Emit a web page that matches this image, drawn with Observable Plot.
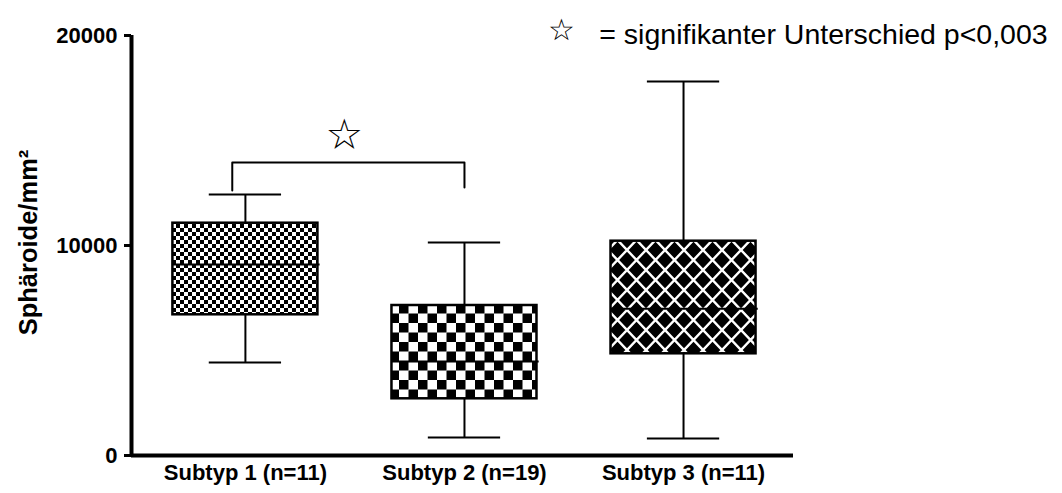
<!DOCTYPE html>
<html><head><meta charset="utf-8">
<script src="https://cdn.jsdelivr.net/npm/d3@7"></script>
<script src="https://cdn.jsdelivr.net/npm/@observablehq/plot@0.6"></script>
<style>body{margin:0;background:#fff}</style>
</head><body><div id="chart"></div>
<script>
// ---- data ----
const categories = ["Subtyp 1 (n=11)", "Subtyp 2 (n=19)", "Subtyp 3 (n=11)"];
const minimum = [4430, 857, 810];
const q1 = [6700, 2700, 4843];
const median = [9095, 4476, 6986];
const q3 = [11062, 7143, 10205];
const maximum = [12430, 10143, 17810];
const yTicks = [0, 10000, 20000];
const bracket = {from: 1, to: 2, y: 13952, leftEnd: 12620, rightEnd: 12760};
const star = {x: 1.452, y: 15238, label: "☆"};
const legendStar = "☆";
const legendText = "= signifikanter Unterschied p<0,003";
const yLabel = "Sphäroide/mm²";

// ---- build ----
const rows = categories.map((c, i) => ({pos: i + 1, label: c, min: minimum[i], q1: q1[i], median: median[i], q3: q3[i], max: maximum[i]}));
const patterns = ["url(#pat-fine)", "url(#pat-coarse)", "url(#pat-diamond)"];
const halfBox = 0.331, halfCap = 0.165;
const xDomain = [0.48, 3.502];
const bracketPts = [
  {x: bracket.from - 0.06, y: bracket.leftEnd},
  {x: bracket.from - 0.06, y: bracket.y},
  {x: bracket.to, y: bracket.y},
  {x: bracket.to, y: bracket.rightEnd}
];
const font = "Arial, 'Liberation Sans', sans-serif";

const chart = Plot.plot({
  width: 1062,
  height: 493,
  marginTop: 35,
  marginBottom: 38,
  marginLeft: 131,
  marginRight: 269,
  style: {fontFamily: font, background: "white", color: "black", overflow: "visible"},
  x: {domain: xDomain},
  y: {domain: [0, 20000]},
  color: {type: "identity"},
  marks: [
    Plot.ruleX(rows, {x: "pos", y1: "min", y2: "max", stroke: "black", strokeWidth: 2}),
    Plot.rect(rows, {x1: d => d.pos - halfBox, x2: d => d.pos + halfBox, y1: "q1", y2: "q3",
      fill: (d, i) => patterns[i], stroke: "black", strokeWidth: 2.5}),
    Plot.ruleY(rows, {x1: d => d.pos - halfBox, x2: d => d.pos + halfBox + 0.01, y: "median", stroke: "black", strokeWidth: 2}),
    Plot.ruleY(rows, {x1: d => d.pos - halfCap, x2: d => d.pos + halfCap, y: "max", stroke: "black", strokeWidth: 2}),
    Plot.ruleY(rows, {x1: d => d.pos - halfCap, x2: d => d.pos + halfCap, y: "min", stroke: "black", strokeWidth: 2}),
    Plot.line(bracketPts, {x: "x", y: "y", stroke: "black", strokeWidth: 2}),
    Plot.text([star], {x: "x", y: "y", text: "label", fontSize: 42, lineAnchor: "middle", fontFamily: "DejaVu Sans", fill: "black"}),
    Plot.ruleY([0], {strokeWidth: 4, stroke: "black"}),
    Plot.ruleX([xDomain[0]], {y1: yTicks[0], y2: yTicks[yTicks.length - 1], strokeWidth: 4, stroke: "black"}),
    Plot.axisY(yTicks, {tickSize: 7, strokeWidth: 3, tickPadding: 7, fontSize: 22, fontWeight: "bold", tickFormat: d3.format("d"), label: null}),
    Plot.axisX([1, 2, 3], {tickSize: 0, tickPadding: 9, fontSize: 22, fontWeight: "bold", tickFormat: d => categories[d - 1], label: null}),
    Plot.text([yLabel], {frameAnchor: "left", rotate: -90, dx: -103, dy: -3, textAnchor: "middle", fontSize: 25.5, fontWeight: "bold", fill: "black"}),
    Plot.text([legendText], {frameAnchor: "top-right", dx: 30, dy: -1, textAnchor: "middle", lineAnchor: "middle", fontSize: 28.5, fill: "black"}),
    Plot.text([legendStar], {frameAnchor: "top-right", dx: -232, dy: -5, textAnchor: "middle", lineAnchor: "middle", fontSize: 30, fontFamily: "DejaVu Sans", fill: "black"})
  ]
});

const defs = d3.select(chart).insert("defs", ":first-child");
const pf = defs.append("pattern").attr("id", "pat-fine").attr("patternUnits", "userSpaceOnUse").attr("width", 8).attr("height", 8);
pf.append("rect").attr("width", 8).attr("height", 8).attr("fill", "white");
pf.append("rect").attr("width", 4).attr("height", 4).attr("fill", "black");
pf.append("rect").attr("x", 4).attr("y", 4).attr("width", 4).attr("height", 4).attr("fill", "black");
const pc = defs.append("pattern").attr("id", "pat-coarse").attr("patternUnits", "userSpaceOnUse").attr("width", 19).attr("height", 19);
pc.append("rect").attr("width", 19).attr("height", 19).attr("fill", "white");
pc.append("rect").attr("width", 9.5).attr("height", 9.5).attr("fill", "black");
pc.append("rect").attr("x", 9.5).attr("y", 9.5).attr("width", 9.5).attr("height", 9.5).attr("fill", "black");
const pd = defs.append("pattern").attr("id", "pat-diamond").attr("patternUnits", "userSpaceOnUse").attr("width", 19).attr("height", 20);
pd.append("rect").attr("width", 19).attr("height", 20).attr("fill", "black");
pd.append("path").attr("d", "M-1.9,12 L11.4,-2 M7.6,22 L20.9,8 M-1.9,8 L11.4,22 M7.6,-2 L20.9,12")
  .attr("stroke", "white").attr("stroke-width", 2.4).attr("fill", "none");

document.getElementById("chart").appendChild(chart);
</script>
</body></html>
